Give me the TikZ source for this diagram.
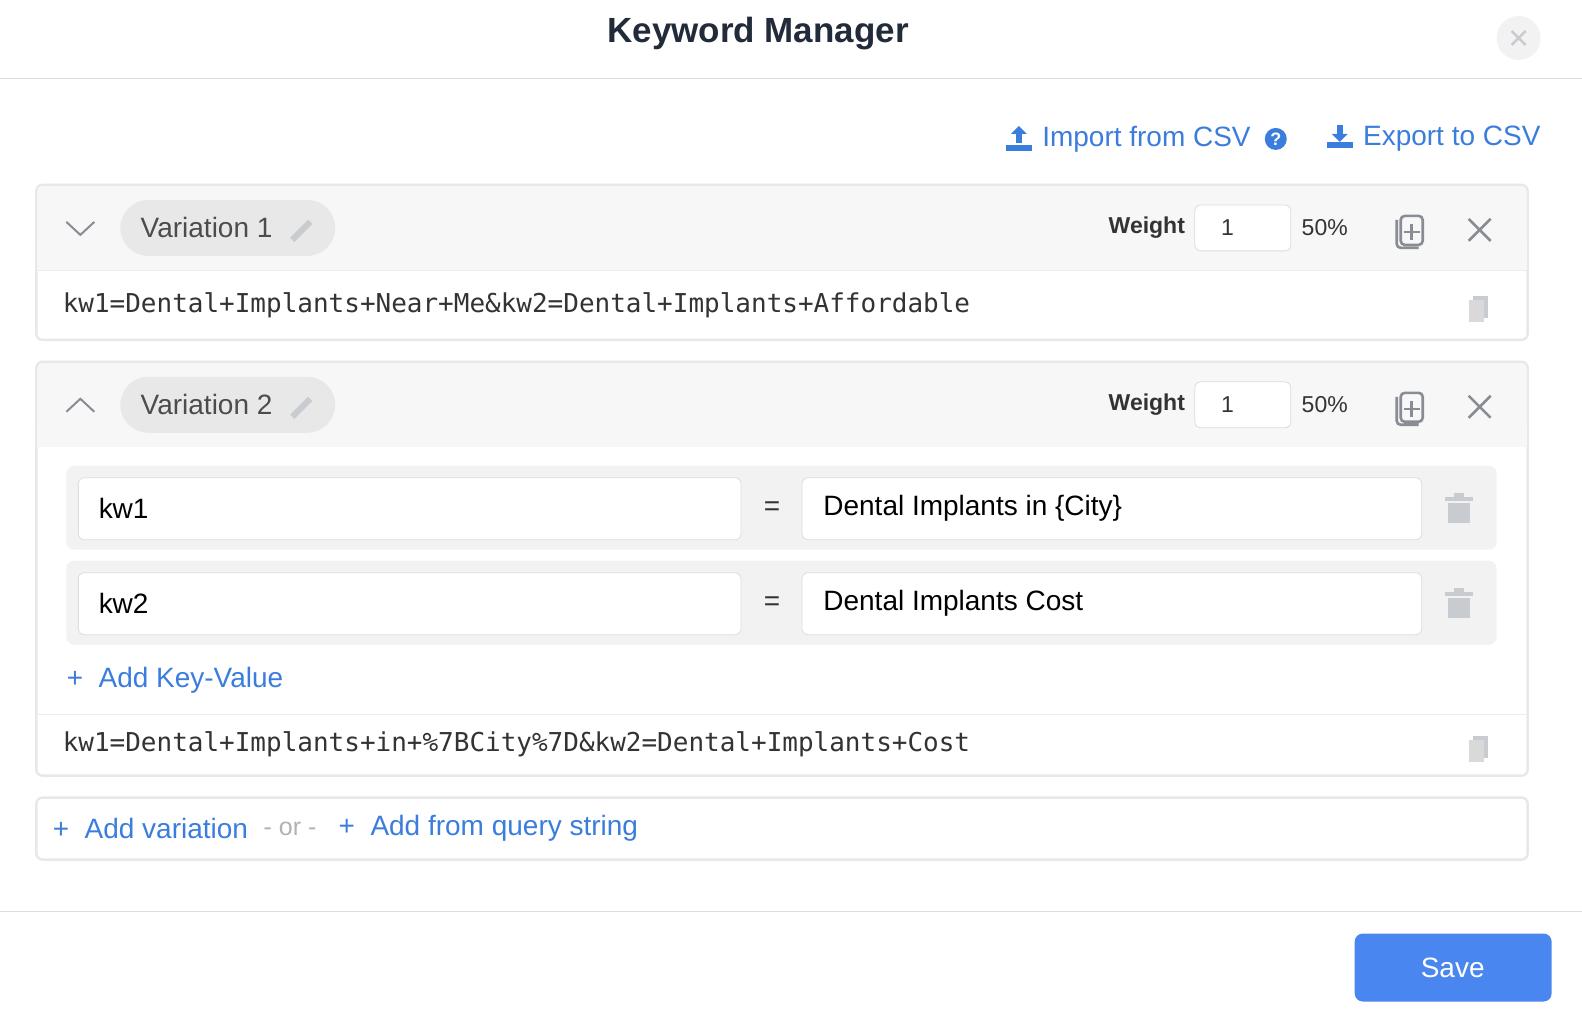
\documentclass[tikz,border=0pt]{standalone}
\usepackage{fontspec}
\setmainfont{Liberation Sans}
\setmonofont{DejaVu Sans Mono}
\definecolor{blu}{HTML}{3B7DDD}
\definecolor{savec}{HTML}{4A86F0}
\definecolor{dark}{HTML}{222B3A}
\definecolor{txt}{HTML}{333333}
\definecolor{hdr}{HTML}{F7F7F7}
\definecolor{bord}{HTML}{DDDDDD}
\definecolor{ico}{HTML}{888C94}
\definecolor{lico}{HTML}{C8CBD0}
\begin{document}
\begin{tikzpicture}[x=0.5pt,y=-0.5pt,
  lbl/.style={inner sep=0,anchor=west,font=\fontsize{14}{16}\selectfont,text=txt},
  link/.style={inner sep=0,anchor=west,font=\fontsize{14}{16}\selectfont,text=blu},
  mono/.style={inner sep=0,anchor=west,font=\ttfamily\fontsize{13}{15}\selectfont,text=txt},
  card/.style={fill=white,draw=black!9,line width=1.2pt,rounded corners=3pt},
  pill/.style={fill=black!9,rounded corners=14pt},
  field/.style={fill=white,draw=bord,rounded corners=3pt},
  xmark/.style={draw=ico,line width=1.3pt}]
\fill[white] (0,0) rectangle (1582,1028);
% header
\node[inner sep=0,font=\bfseries\fontsize{17.5}{20}\selectfont,text=dark] (title) at (758,34) {Keyword Manager};
\fill[black!5] (1519,38) circle (22);
\draw[draw=lico,line width=1.2pt] (1512,31)--(1526,45) (1526,31)--(1512,45);
\draw[bord] (0,78)--(1582,78);
% import / export
\fill[blu] (1006,145) rectangle (1032,151);
\fill[blu] (1016,143) rectangle (1022,134);
\fill[blu] (1011,134)--(1019,126)--(1027,134)--cycle;
\node[link] (imp) at (1042,139) {Import from CSV};
\fill[blu] (1276,139) circle (11);
\node[inner sep=0,text=white,font=\bfseries\fontsize{9}{10}\selectfont] at (1276,139) {?};
\fill[blu] (1327,142) rectangle (1353,148);
\fill[blu] (1337,125) rectangle (1343,134);
\fill[blu] (1332,134)--(1340,142)--(1348,134)--cycle;
\node[link] (exp) at (1363,139) {Export to CSV};
% card 1
\draw[card] (36,185) rectangle (1528,340);
\fill[hdr,rounded corners=3pt] (37,186) rectangle (1527,271);
\fill[hdr] (37,240) rectangle (1527,271);
\draw[black!7] (37,271)--(1527,271);
\draw[ico,line width=1pt] (66,222)--(80,235)--(94,222);
\fill[pill] (120,200) rectangle (335,256);
\node[lbl,text=black!70] (v1) at (140,228) {Variation 1};
\draw[lico,line width=3pt] (292,240)--(310,222);
\node[inner sep=0,font=\bfseries\fontsize{11.5}{13}\selectfont,text=txt] (w1) at (1147,228) {Weight};
\draw[field] (1195,205) rectangle (1291,251);
\node[lbl,font=\fontsize{11.5}{13}\selectfont] at (1221,228) {1};
\node[inner sep=0,font=\fontsize{11.5}{13}\selectfont,text=txt] at (1325,228) {50\%};
\draw[ico,line width=1.3pt,rounded corners=2pt] (1401,216) rectangle (1423,245) (1397,220)--(1397,248)--(1419,248);
\draw[ico,line width=1.3pt] (1404,232)--(1420,232) (1412,224)--(1412,240);
\draw[xmark] (1469,219)--(1491,241) (1491,219)--(1469,241);
\node[mono] (q1) at (62,305) {kw1=Dental+Implants+Near+Me\&kw2=Dental+Implants+Affordable};
\fill[lico] (1473,296) rectangle (1488,318); \fill[black!15] (1469,300) rectangle (1484,322);
% card 2
\draw[card] (36,362) rectangle (1528,776);
\fill[hdr,rounded corners=3pt] (37,363) rectangle (1527,447);
\fill[hdr] (37,420) rectangle (1527,447);
\draw[ico,line width=1pt] (66,412)--(80,399)--(94,412);
\fill[pill] (120,377) rectangle (335,433);
\node[lbl,text=black!70] (v2) at (140,405) {Variation 2};
\draw[lico,line width=3pt] (292,417)--(310,399);
\node[inner sep=0,font=\bfseries\fontsize{11.5}{13}\selectfont,text=txt] (w2) at (1147,405) {Weight};
\draw[field] (1195,382) rectangle (1291,428);
\node[lbl,font=\fontsize{11.5}{13}\selectfont] at (1221,405) {1};
\node[inner sep=0,font=\fontsize{11.5}{13}\selectfont,text=txt] at (1325,405) {50\%};
\draw[ico,line width=1.3pt,rounded corners=2pt] (1401,393) rectangle (1423,422) (1397,397)--(1397,425)--(1419,425);
\draw[ico,line width=1.3pt] (1404,409)--(1420,409) (1412,401)--(1412,417);
\draw[xmark] (1469,396)--(1491,418) (1491,396)--(1469,418);
% rows
\foreach \y/\k/\v in {466/kw1/{Dental Implants in \{City\}},561/kw2/{Dental Implants Cost}}{
  \fill[black!5,rounded corners=4pt] (66,\y) rectangle (1497,\y+84);
  \draw[field] (78,\y+12) rectangle (741,\y+74);
  \draw[field] (802,\y+12) rectangle (1422,\y+74);
  \node[lbl,text=black] at (98,\y+43) {\k};
  \node[inner sep=0,font=\fontsize{14}{16}\selectfont,text=txt] at (772,\y+43) {=};
  \node[lbl,text=black] at (823,\y+43) {\v};
  \fill[lico] (1445,\y+31) rectangle (1473,\y+35);
  \fill[lico] (1454,\y+27) rectangle (1464,\y+31);
  \fill[lico] (1448,\y+37) rectangle (1470,\y+57);
}
\node[link] (addkv) at (66,681) {+ \ Add Key-Value};
\draw[black!7] (37,715)--(1527,715);
\node[mono] (q2) at (62,745) {kw1=Dental+Implants+in+\%7BCity\%7D\&kw2=Dental+Implants+Cost};
\fill[lico] (1473,736) rectangle (1488,758); \fill[black!15] (1469,740) rectangle (1484,762);
% card 3
\draw[card] (36,798) rectangle (1528,860);
\node[link] (addv) at (52,829) {+ \ Add variation};
\node[lbl,text=black!30,font=\fontsize{12.5}{14}\selectfont] at (263,829) {- or -};
\node[link] (addq) at (338,829) {+ \ Add from query string};
% footer
\draw[bord] (0,912)--(1582,912);
\fill[savec,rounded corners=4pt] (1355,934) rectangle (1552,1002);
\node[inner sep=0,text=white,font=\fontsize{14}{16}\selectfont] (save) at (1453,968) {Save};
\end{tikzpicture}
\end{document}
